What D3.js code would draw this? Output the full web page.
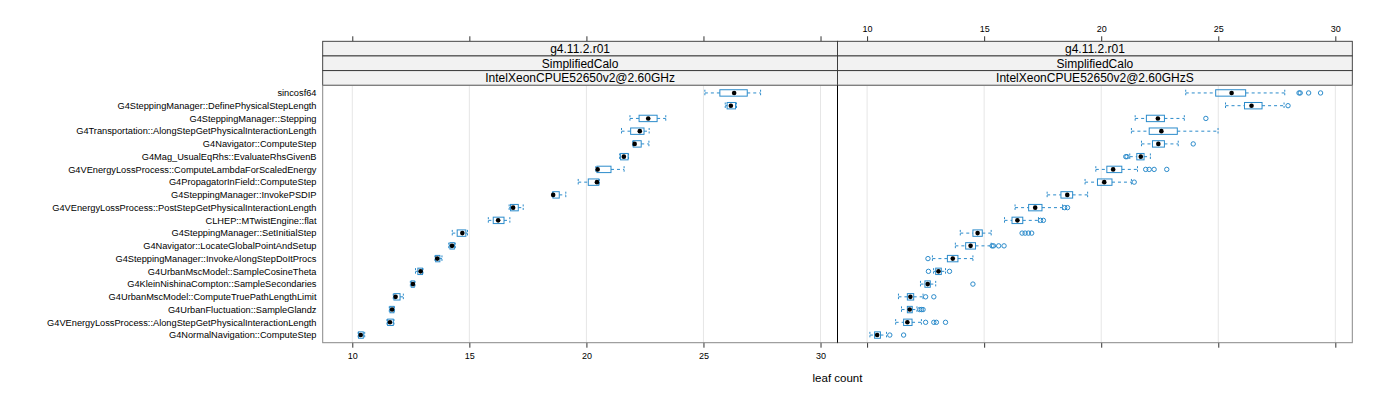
<!DOCTYPE html>
<html lang="en">
<head>
    <meta charset="UTF-8">
    <title>leaf count</title>
    <script src="https://d3js.org/d3.v7.min.js"></script>
    <style>
        body {
            margin: 0;
            padding: 0;
            background-color: #fff;
            font-family: "Liberation Sans", Arial, sans-serif;
        }
        .ylab { font-size: 9.25px; fill: #000; }
        .strip text { font-size: 12px; fill: #000; }
        .tick text { font-size: 9px; fill: #000; font-family: "Liberation Sans", Arial, sans-serif; }
        .tick line { stroke: #333; }
        .domain { display: none; }
    </style>
</head>
<body>
    <svg></svg>

    <script>
        // function names, top to bottom
        const names = [
            "sincosf64",
            "G4SteppingManager::DefinePhysicalStepLength",
            "G4SteppingManager::Stepping",
            "G4Transportation::AlongStepGetPhysicalInteractionLength",
            "G4Navigator::ComputeStep",
            "G4Mag_UsualEqRhs::EvaluateRhsGivenB",
            "G4VEnergyLossProcess::ComputeLambdaForScaledEnergy",
            "G4PropagatorInField::ComputeStep",
            "G4SteppingManager::InvokePSDIP",
            "G4VEnergyLossProcess::PostStepGetPhysicalInteractionLength",
            "CLHEP::MTwistEngine::flat",
            "G4SteppingManager::SetInitialStep",
            "G4Navigator::LocateGlobalPointAndSetup",
            "G4SteppingManager::InvokeAlongStepDoItProcs",
            "G4UrbanMscModel::SampleCosineTheta",
            "G4KleinNishinaCompton::SampleSecondaries",
            "G4UrbanMscModel::ComputeTruePathLengthLimit",
            "G4UrbanFluctuation::SampleGlandz",
            "G4VEnergyLossProcess::AlongStepGetPhysicalInteractionLength",
            "G4NormalNavigation::ComputeStep"
        ];

        const stripLabels = [
            ["g4.11.2.r01", "SimplifiedCalo", "IntelXeonCPUE52650v2@2.60GHz"],
            ["g4.11.2.r01", "SimplifiedCalo", "IntelXeonCPUE52650v2@2.60GHzS"]
        ];

        // box stats per row: [lower whisker, q1, median, q3, upper whisker]
        const statsA = [
            [25.06, 25.70, 26.31, 26.87, 27.44],
            [25.93, 26.01, 26.17, 26.37, 26.41],
            [21.86, 22.25, 22.64, 23.02, 23.39],
            [21.50, 21.89, 22.28, 22.46, 22.68],
            [21.98, 22.00, 22.06, 22.34, 22.67],
            [21.42, 21.46, 21.60, 21.78, 21.80],
            [20.40, 20.45, 20.48, 21.05, 21.61],
            [19.65, 20.08, 20.45, 20.53, 20.55],
            [18.55, 18.57, 18.58, 18.84, 19.12],
            [16.70, 16.76, 16.87, 17.09, 17.30],
            [15.81, 16.02, 16.23, 16.48, 16.73],
            [14.27, 14.48, 14.70, 14.85, 14.92],
            [14.12, 14.17, 14.26, 14.36, 14.40],
            [13.53, 13.56, 13.63, 13.74, 13.83],
            [12.70, 12.80, 12.92, 13.00, 13.02],
            [12.48, 12.52, 12.59, 12.65, 12.68],
            [11.75, 11.78, 11.85, 12.04, 12.18],
            [11.58, 11.61, 11.70, 11.78, 11.80],
            [11.48, 11.51, 11.61, 11.75, 11.78],
            [10.25, 10.27, 10.36, 10.47, 10.53]
        ];
        const outA = names.map(() => []);

        const statsB = [
            [23.61, 24.89, 25.57, 26.17, 27.84],
            [25.31, 26.12, 26.42, 26.87, 27.81],
            [21.45, 21.93, 22.42, 22.70, 23.55],
            [21.29, 22.05, 22.57, 23.25, 24.99],
            [21.72, 22.19, 22.44, 22.70, 23.29],
            [21.22, 21.52, 21.69, 21.83, 22.10],
            [19.77, 20.24, 20.51, 20.88, 21.55],
            [19.31, 19.84, 20.13, 20.46, 21.29],
            [17.69, 18.28, 18.55, 18.78, 19.42],
            [16.32, 16.90, 17.18, 17.47, 18.35],
            [15.87, 16.19, 16.42, 16.65, 17.32],
            [13.98, 14.52, 14.72, 14.92, 15.30],
            [13.77, 14.21, 14.42, 14.63, 15.30],
            [12.79, 13.43, 13.66, 13.88, 14.52],
            [12.84, 12.93, 13.05, 13.17, 13.35],
            [12.28, 12.47, 12.59, 12.70, 12.93],
            [11.34, 11.72, 11.85, 11.99, 12.39],
            [11.47, 11.72, 11.82, 11.93, 12.13],
            [11.22, 11.56, 11.72, 11.92, 12.32],
            [10.12, 10.32, 10.43, 10.57, 10.83]
        ];
        const outB = [
            [28.45, 28.50, 28.86, 29.37],
            [27.98],
            [24.47],
            [],
            [23.93],
            [21.05, 21.10],
            [21.90, 22.05, 22.26, 22.80],
            [21.41],
            [],
            [18.44, 18.56],
            [17.41, 17.53],
            [16.62, 16.75, 16.89, 17.03],
            [15.34, 15.40, 15.62, 15.85],
            [12.60],
            [12.62, 13.52],
            [14.52],
            [12.50, 12.85],
            [12.25, 12.32, 12.39],
            [12.50, 12.85, 12.96, 13.35],
            [10.97, 11.56]
        ];

        const tickVals = [10, 15, 20, 25, 30];

        const panels = [
            { stats: statsA, out: outA, strips: stripLabels[0], bottomLabels: true },
            { stats: statsB, out: outB, strips: stripLabels[1], bottomLabels: false }
        ];

        const width = 1400, height = 400;
        const panelLeft = 322.7, panelW = 514.8;
        const panelTop = 85.3, panelBottom = 342.7;
        const stripH = 14.67;
        const boxCol = "#2b8bcb";

        const svg = d3.select("svg")
            .attr("width", width)
            .attr("height", height);

        const x = d3.scaleLinear().domain([8.736, 30.725]).range([0, panelW]);
        const y = d3.scalePoint().domain(names)
            .range([panelTop, panelBottom]).padding(0.6);

        // row labels
        svg.append("g").selectAll("text")
            .data(names)
            .join("text")
            .attr("class", "ylab")
            .attr("x", 316.5)
            .attr("y", d => y(d))
            .attr("dy", "0.35em")
            .attr("text-anchor", "end")
            .text(d => d);

        panels.forEach((p, i) => {
            const g = svg.append("g")
                .attr("transform", `translate(${panelLeft + i * panelW},0)`);

            // grid
            g.selectAll("line.grid")
                .data(tickVals)
                .join("line")
                .attr("class", "grid")
                .attr("x1", d => x(d)).attr("x2", d => x(d))
                .attr("y1", panelTop).attr("y2", panelBottom)
                .attr("stroke", "#e6e6e6");

            // whiskers
            const rows = g.selectAll("g.row")
                .data(p.stats.map((s, k) => ({ name: names[k], s: s, out: p.out[k] })))
                .join("g")
                .attr("class", "row");

            const bh = 3.2;
            rows.append("line")
                .attr("x1", d => x(d.s[0])).attr("x2", d => x(d.s[1]))
                .attr("y1", d => y(d.name)).attr("y2", d => y(d.name))
                .attr("stroke", boxCol).attr("stroke-dasharray", "3,3");
            rows.append("line")
                .attr("x1", d => x(d.s[3])).attr("x2", d => x(d.s[4]))
                .attr("y1", d => y(d.name)).attr("y2", d => y(d.name))
                .attr("stroke", boxCol).attr("stroke-dasharray", "3,3");
            [0, 4].forEach(j => {
                rows.append("line")
                    .attr("x1", d => x(d.s[j])).attr("x2", d => x(d.s[j]))
                    .attr("y1", d => y(d.name) - bh).attr("y2", d => y(d.name) + bh)
                    .attr("stroke", boxCol).attr("stroke-dasharray", "2,1.5");
            });

            // box
            rows.append("rect")
                .attr("x", d => x(d.s[1]))
                .attr("width", d => Math.max(0.5, x(d.s[3]) - x(d.s[1])))
                .attr("y", d => y(d.name) - bh)
                .attr("height", bh * 2)
                .attr("fill", "none")
                .attr("stroke", boxCol);

            // outliers
            rows.selectAll("circle.out")
                .data(d => d.out.map(v => ({ v: v, name: d.name })))
                .join("circle")
                .attr("class", "out")
                .attr("cx", d => x(d.v)).attr("cy", d => y(d.name))
                .attr("r", 2.2)
                .attr("fill", "none")
                .attr("stroke", boxCol);

            // median dot
            rows.append("circle")
                .attr("cx", d => x(d.s[2])).attr("cy", d => y(d.name))
                .attr("r", 2.3)
                .attr("fill", "#000");

            // axes
            const bottom = d3.axisBottom(x).tickValues(tickVals).tickSize(5).tickPadding(5)
                .tickFormat(p.bottomLabels ? d3.format("d") : "");
            g.append("g")
                .attr("transform", `translate(0,${panelBottom})`)
                .call(bottom);
            const top = d3.axisTop(x).tickValues(tickVals).tickSize(5).tickPadding(4)
                .tickFormat(p.bottomLabels ? "" : d3.format("d"));
            g.append("g")
                .attr("transform", `translate(0,${panelTop - 3 * stripH})`)
                .call(top);

            // strips
            const st = g.append("g").attr("class", "strip");
            p.strips.forEach((s, k) => {
                const y0 = panelTop - (3 - k) * stripH;
                st.append("rect")
                    .attr("x", 0).attr("y", y0)
                    .attr("width", panelW).attr("height", stripH)
                    .attr("fill", "#f2f2f2")
                    .attr("stroke", "#333")
                    .attr("stroke-width", 0.9);
                st.append("text")
                    .attr("x", panelW / 2)
                    .attr("y", y0 + stripH / 2)
                    .attr("dy", "0.36em")
                    .attr("text-anchor", "middle")
                    .text(s);
            });

            // panel frame
            g.append("rect")
                .attr("x", 0).attr("y", panelTop)
                .attr("width", panelW).attr("height", panelBottom - panelTop)
                .attr("fill", "none")
                .attr("stroke", "#888");
        });

        // divider between panels
        svg.append("line")
            .attr("x1", panelLeft + panelW).attr("x2", panelLeft + panelW)
            .attr("y1", panelTop).attr("y2", panelBottom)
            .attr("stroke", "#000");

        svg.append("text")
            .attr("x", panelLeft + panelW)
            .attr("y", 382)
            .attr("text-anchor", "middle")
            .style("font-size", "11.5px")
            .text("leaf count");
    </script>
</body>
</html>
